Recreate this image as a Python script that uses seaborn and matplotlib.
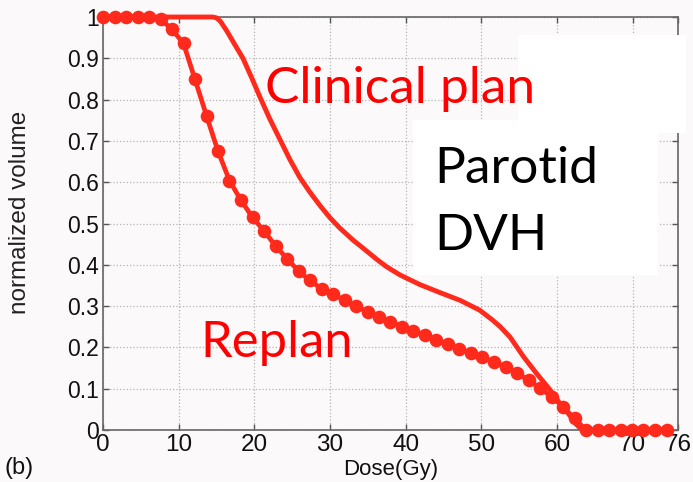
import matplotlib
matplotlib.use("Agg")
import matplotlib.pyplot as plt
from matplotlib.patches import Rectangle
import numpy as np
import pandas as pd
import seaborn as sns

# Clinical plan DVH (dose in Gy, normalized volume)
clinical_dose = [0, 14.5, 15.0, 15.5, 16.3, 17.3, 18.5, 19.6, 20.75, 22.0, 23.4, 24.7, 26.0,
                 27.3, 28.7, 30.0, 31.3, 33.1, 34.4, 36.2, 37.5, 39.3, 41.9, 44.5, 47.2,
                 49.8, 51.5, 52.5, 53.8, 55.6, 57.3, 59.1, 60.4, 61.5, 62.5, 63.3, 74.5]
clinical_vol = [1.0, 1.0, 0.998, 0.99, 0.968, 0.937, 0.900, 0.855, 0.806, 0.755, 0.703, 0.655, 0.612,
                0.577, 0.543, 0.514, 0.489, 0.459, 0.440, 0.413, 0.395, 0.375, 0.352, 0.333, 0.314,
                0.290, 0.266, 0.250, 0.225, 0.177, 0.137, 0.097, 0.064, 0.040, 0.015, 0.0, 0.0]

# Replan DVH, sampled every 1.52 Gy
replan_dose = [0.00, 1.52, 3.04, 4.56, 6.08, 7.60, 9.12, 10.64, 12.16, 13.68,
               15.20, 16.72, 18.24, 19.76, 21.28, 22.80, 24.32, 25.84, 27.36, 28.88,
               30.40, 31.92, 33.44, 34.96, 36.48, 38.00, 39.52, 41.04, 42.56, 44.08,
               45.60, 47.12, 48.64, 50.16, 51.68, 53.20, 54.72, 56.24, 57.76, 59.28,
               60.80, 62.32, 63.84, 65.36, 66.88, 68.40, 69.92, 71.44, 72.96, 74.48]
replan_vol = [1.0, 1.0, 1.0, 1.0, 1.0, 0.995, 0.970, 0.936, 0.849, 0.761,
              0.675, 0.604, 0.556, 0.515, 0.482, 0.446, 0.415, 0.385, 0.362, 0.342,
              0.329, 0.314, 0.300, 0.286, 0.274, 0.262, 0.250, 0.240, 0.229, 0.219,
              0.208, 0.197, 0.187, 0.176, 0.164, 0.153, 0.137, 0.121, 0.101, 0.081,
              0.056, 0.028, 0.0, 0.0, 0.0, 0.0, 0.0, 0.0, 0.0, 0.0]

x_ticks = [0, 10, 20, 30, 40, 50, 60, 70, 76]
y_ticks = [0, 0.1, 0.2, 0.3, 0.4, 0.5, 0.6, 0.7, 0.8, 0.9, 1.0]
y_tick_labels = ["0", "0.1", "0.2", "0.3", "0.4", "0.5", "0.6", "0.7", "0.8", "0.9", "1"]

sns.set_style("ticks")
plt.rcParams["font.family"] = ["Liberation Sans", "DejaVu Sans"]

W, H = 693, 482
bg = "#fcf9fb"
fig = plt.figure(figsize=(W / 100, H / 100), dpi=100, facecolor=bg)
ax = fig.add_axes([103 / W, 1 - 430 / H, (678 - 103) / W, (430 - 17) / H])
ax.set_facecolor(bg)

line_red = "#ff2a1c"
clin_df = pd.DataFrame({"dose": clinical_dose, "vol": clinical_vol})
rep_df = pd.DataFrame({"dose": replan_dose, "vol": replan_vol})

sns.lineplot(data=clin_df, x="dose", y="vol", ax=ax, color=line_red, lw=3.5,
             sort=False, clip_on=False, zorder=3,
             solid_joinstyle="round", solid_capstyle="round")
sns.lineplot(data=rep_df, x="dose", y="vol", ax=ax, color=line_red, lw=3.4,
             marker="o", markersize=9.8, markeredgewidth=0, sort=False,
             clip_on=False, zorder=4)

ax.set_xlim(0, 76)
ax.set_ylim(0, 1)
ax.set_xticks(x_ticks)
ax.set_yticks(y_ticks)
ax.set_yticklabels(y_tick_labels)
ax.grid(True, linestyle=":", color="#b5b5b5", lw=0.9)
ax.tick_params(direction="in", length=4.5, width=1, color="#555555",
               top=True, right=True, labelcolor="#111111")
ax.tick_params(axis="x", labelsize=17.5, pad=3)
ax.tick_params(axis="y", labelsize=16.5, pad=3)
for s in ax.spines.values():
    s.set_visible(True)
    s.set_color("#666666")
    s.set_linewidth(1.2)

ax.set_xlabel("Dose(Gy)", fontsize=16, labelpad=2, color="#111111")
ax.set_ylabel("normalized volume", fontsize=17.5, color="#222222")
ax.yaxis.set_label_coords(-0.125, 0.528)

# white panels behind the annotation
for (x0, y0, x1, y1) in [(518, 35, 686, 133), (413, 120, 658, 275)]:
    fig.patches.append(Rectangle((x0 / W, 1 - y1 / H), (x1 - x0) / W, (y1 - y0) / H,
                                 transform=fig.transFigure, facecolor="white",
                                 edgecolor="none", zorder=1))

label_font = ["Lato", "DejaVu Sans"]
fig.text(265 / W, 1 - 103 / H, "Clinical plan", color="#ff0000", fontsize=37,
         family=label_font, va="baseline", ha="left", zorder=5)
fig.text(200 / W, 1 - 357 / H, "Replan", color="#ff0000", fontsize=36.5,
         family=label_font, va="baseline", ha="left", zorder=5)
fig.text(434 / W, 1 - 183 / H, "Parotid", color="black", fontsize=37,
         family=label_font, va="baseline", ha="left", zorder=5)
fig.text(434 / W, 1 - 250 / H, "DVH", color="black", fontsize=37,
         family=label_font, va="baseline", ha="left", zorder=5)
fig.text(4 / W, 1 - 474 / H, "(b)", color="#111111", fontsize=17, va="baseline", ha="left")

fig.savefig("out.png", dpi=100, facecolor=bg)
